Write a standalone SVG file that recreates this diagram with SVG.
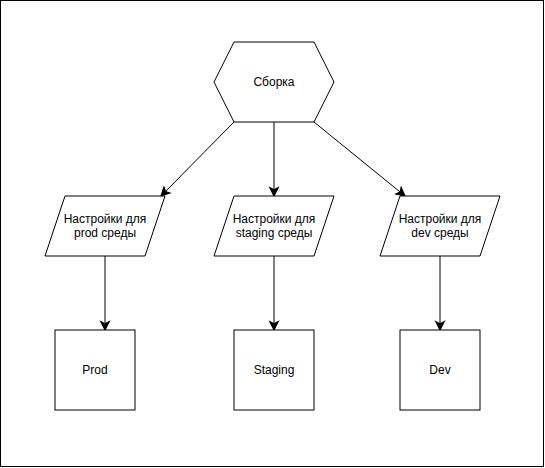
<svg xmlns="http://www.w3.org/2000/svg" width="545" height="468" viewBox="0 0 545 468">
<style>
.shape{fill:#ffffff;stroke:#000000;stroke-width:1}
.edge{fill:none;stroke:#000000;stroke-width:1}
.lbl{font-family:"Liberation Sans",Arial,sans-serif;font-size:12px;fill:#000000;text-anchor:middle}
</style>
<defs>
<marker id="arr" markerUnits="userSpaceOnUse" markerWidth="12" markerHeight="12" viewBox="-8 -5 10 10" refX="0" refY="0" orient="auto">
<path d="M0,0 L-7,-3.5 L-5.25,0 L-7,3.5 Z" fill="#000000" stroke="#000000" stroke-width="1"/>
</marker>
</defs>
<rect x="0.5" y="0.5" width="543" height="466" fill="#ffffff" stroke="#000000" stroke-width="1"/>
<g id="connectors">
<path class="edge" d="M234,122 L161,196" marker-end="url(#arr)"/>
<path class="edge" d="M274,122 L274,196" marker-end="url(#arr)"/>
<path class="edge" d="M314,122 L405,196" marker-end="url(#arr)"/>
<path class="edge" d="M105,256 L105,330" marker-end="url(#arr)"/>
<path class="edge" d="M274,256 L274,330" marker-end="url(#arr)"/>
<path class="edge" d="M440,256 L440,330" marker-end="url(#arr)"/>
</g>
<g id="build">
<polygon class="shape" points="234,42 314,42 334,82 314,122 234,122 214,82"/>
<text class="lbl" x="274" y="86">Сборка</text>
</g>
<g id="prod-settings">
<polygon class="shape" points="65,196 165,196 145,256 45,256"/>
<text class="lbl" x="105" y="223">Настройки для</text>
<text class="lbl" x="105" y="237">prod среды</text>
</g>
<g id="staging-settings">
<polygon class="shape" points="234,196 334,196 314,256 214,256"/>
<text class="lbl" x="274" y="223">Настройки для</text>
<text class="lbl" x="274" y="237">staging среды</text>
</g>
<g id="dev-settings">
<polygon class="shape" points="400,196 500,196 480,256 380,256"/>
<text class="lbl" x="440" y="223">Настройки для</text>
<text class="lbl" x="440" y="237">dev среды</text>
</g>
<g id="prod">
<rect class="shape" x="55" y="330" width="80" height="80"/>
<text class="lbl" x="95" y="374">Prod</text>
</g>
<g id="staging">
<rect class="shape" x="234" y="330" width="80" height="80"/>
<text class="lbl" x="274" y="374">Staging</text>
</g>
<g id="dev">
<rect class="shape" x="400" y="330" width="80" height="80"/>
<text class="lbl" x="440" y="374">Dev</text>
</g>
</svg>
